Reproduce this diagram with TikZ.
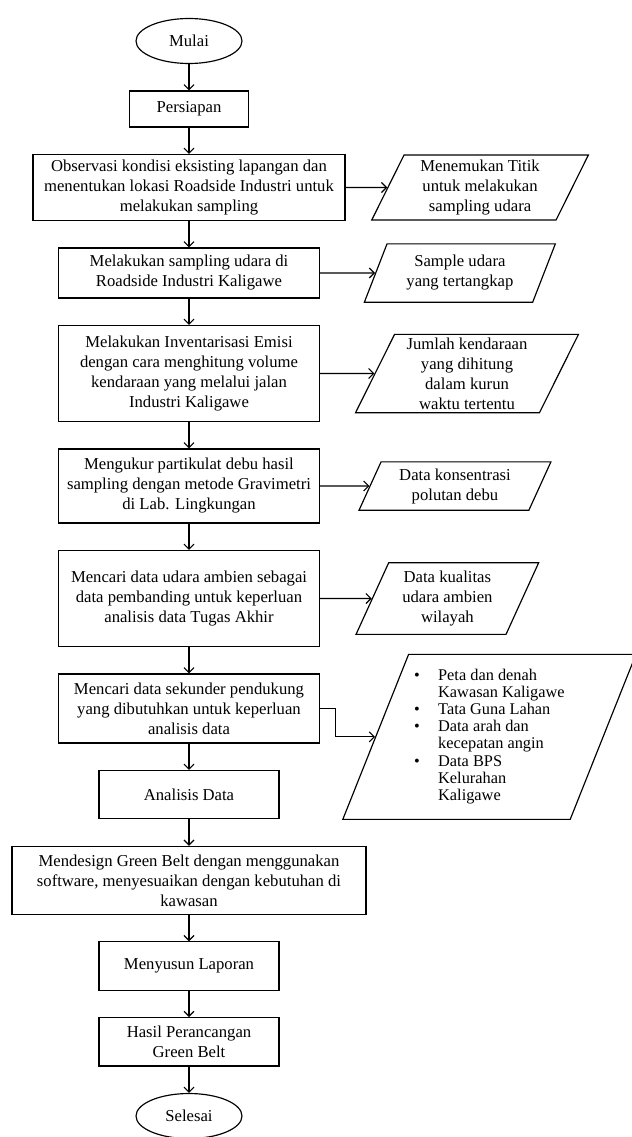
\documentclass[tikz,border=0pt]{standalone}
\usepackage{fontspec}
\setmainfont{Liberation Serif}
\usepackage{tikz}
\usetikzlibrary{shapes,arrows.meta,positioning}

\begin{document}
\begin{tikzpicture}[
    font=\fontsize{10}{12}\selectfont,
    line width=0.7pt,
    terminal/.style={ellipse, draw, minimum width=63.6pt, minimum height=27pt, inner sep=1pt},
    proses/.style={rectangle, draw, align=center, inner sep=2pt, minimum width=156.6pt},
    kecil/.style={proses, minimum width=108pt, minimum height=29pt},
    keluaran/.style={trapezium, trapezium left angle=66, trapezium right angle=114, trapezium stretches=true, draw, align=center, inner sep=1pt},
    panah/.style={draw, -{Straight Barb[length=3pt,width=6pt]}},
    node distance=15.8pt
]
    \useasboundingbox (0,0) rectangle (379.2pt,-682.2pt);

    \node[terminal] (mulai) at (113.4pt,-24.6pt) {Mulai};
    \node[proses, below=of mulai, minimum width=71.4pt, minimum height=21.6pt] (persiapan) {Persiapan};
    \node[proses, below=of persiapan, minimum width=187.2pt, minimum height=39.6pt] (observasi) {Observasi kondisi eksisting lapangan dan\\menentukan lokasi Roadside Industri untuk\\melakukan sampling};
    \node[proses, below=of observasi, minimum height=30pt] (sampling) {Melakukan sampling udara di\\Roadside Industri Kaligawe};
    \node[proses, below=of sampling, minimum height=57.6pt] (inventaris) {Melakukan Inventarisasi Emisi\\dengan cara menghitung volume\\kendaraan yang melalui jalan\\Industri Kaligawe};
    \node[proses, below=of inventaris, minimum height=44.4pt] (ukur) {Mengukur partikulat debu hasil\\sampling dengan metode Gravimetri\\di Lab. Lingkungan};
    \node[proses, below=of ukur, minimum height=57.6pt] (ambien) {Mencari data udara ambien sebagai\\data pembanding untuk keperluan\\analisis data Tugas Akhir};
    \node[proses, below=of ambien, minimum height=41.4pt] (sekunder) {Mencari data sekunder pendukung\\yang dibutuhkan untuk keperluan\\analisis data};
    \node[kecil, below=of sekunder] (analisis) {Analisis Data};
    \node[proses, below=of analisis, minimum width=212.4pt, minimum height=40.8pt] (desain) {Mendesign Green Belt dengan menggunakan\\software, menyesuaikan dengan kebutuhan di\\kawasan};
    \node[kecil, below=of desain] (laporan) {Menyusun Laporan};
    \node[kecil, below=of laporan] (hasil) {Hasil Perancangan\\Green Belt};
    \node[terminal, below=of hasil] (selesai) {Selesai};

    \node[keluaran, right=25pt of observasi, minimum width=130pt, minimum height=39pt] (titik) {Menemukan Titik\\untuk melakukan\\sampling udara};
    \node[keluaran, right=33pt of sampling, minimum width=115pt, minimum height=35pt] (sampel) {Sample udara\\yang tertangkap};
    \node[keluaran, right=32.6pt of inventaris, minimum width=134pt, minimum height=47pt] (jumlah) {Jumlah kendaraan\\yang dihitung\\dalam kurun\\waktu tertentu};
    \node[keluaran, right=29.6pt of ukur, minimum width=116pt, minimum height=29pt] (konsentrasi) {Data konsentrasi\\polutan debu};
    \node[keluaran, right=31pt of ambien, minimum width=110pt, minimum height=43pt] (kualitas) {Data kualitas\\udara ambien\\wilayah};
    \node[keluaran, right=33pt of sekunder, yshift=-17pt, minimum width=176pt, minimum height=99pt, font=\fontsize{9.8}{10.3}\selectfont] (pendukung) {\begin{tabular}{@{}c@{\hspace{11pt}}l@{}}
        \textbullet & Peta dan denah\\
                    & Kawasan Kaligawe\\
        \textbullet & Tata Guna Lahan\\
        \textbullet & Data arah dan\\
                    & kecepatan angin\\
        \textbullet & Data BPS\\
                    & Kelurahan\\
                    & Kaligawe
    \end{tabular}};

    \draw[panah] (mulai) -- (persiapan);
    \draw[panah] (persiapan) -- (observasi);
    \draw[panah] (observasi) -- (sampling);
    \draw[panah] (sampling) -- (inventaris);
    \draw[panah] (inventaris) -- (ukur);
    \draw[panah] (ukur) -- (ambien);
    \draw[panah] (ambien) -- (sekunder);
    \draw[panah] (sekunder) -- (analisis);
    \draw[panah] (analisis) -- (desain);
    \draw[panah] (desain) -- (laporan);
    \draw[panah] (laporan) -- (hasil);
    \draw[panah] (hasil) -- (selesai);

    \draw[panah] (observasi) -- (titik);
    \draw[panah] (sampling) -- (sampel);
    \draw[panah] (inventaris) -- (jumlah);
    \draw[panah] (ukur) -- (konsentrasi);
    \draw[panah] (ambien) -- (kualitas);
    \draw[panah] (sekunder.east) -- ++(9pt,0) |- (pendukung.west);
\end{tikzpicture}
\end{document}
